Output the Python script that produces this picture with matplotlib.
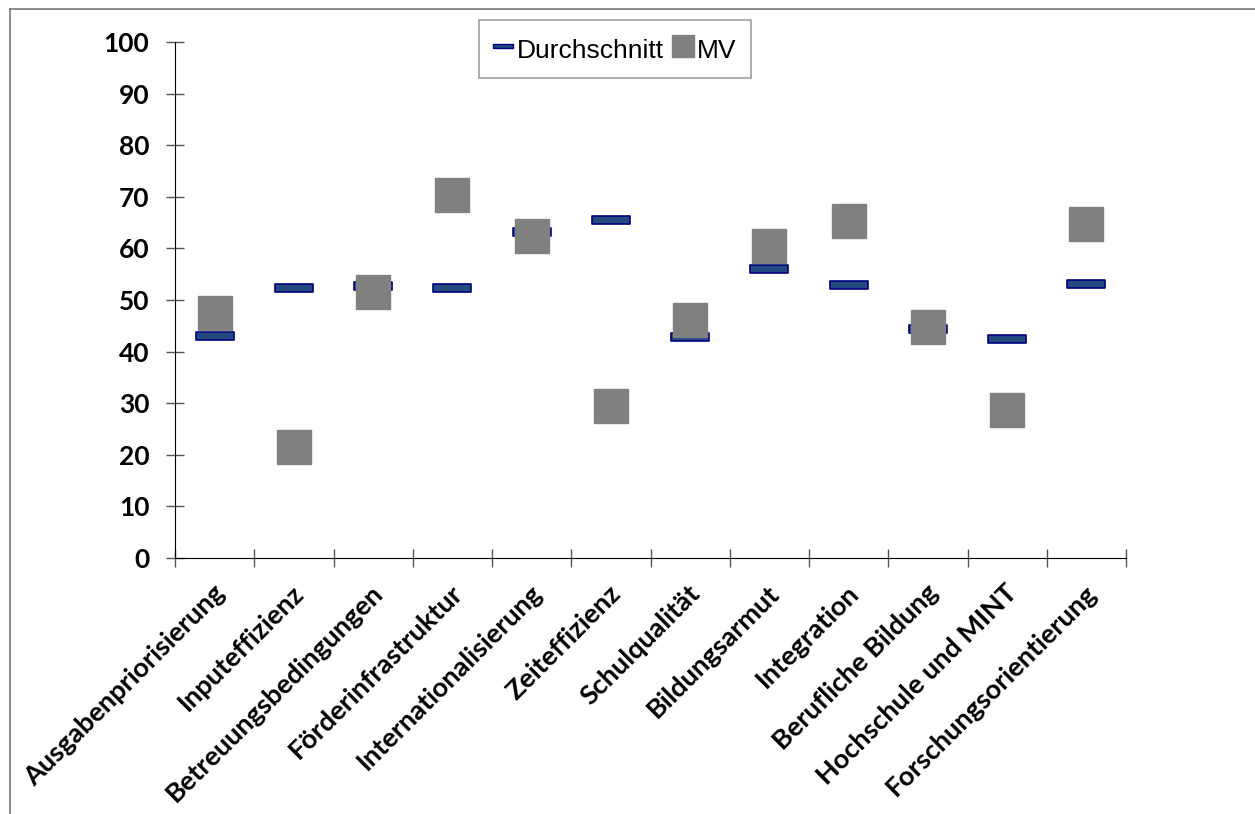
import numpy as np
import matplotlib.pyplot as plt
from matplotlib.path import Path
from matplotlib.lines import Line2D

categories = ["Ausgabenpriorisierung", "Inputeffizienz", "Betreuungsbedingungen",
              "Förderinfrastruktur", "Internationalisierung", "Zeiteffizienz",
              "Schulqualität", "Bildungsarmut", "Integration", "Berufliche Bildung",
              "Hochschule und MINT", "Forschungsorientierung"]
durchschnitt = [43.0, 52.3, 52.7, 52.3, 63.2, 65.5, 42.8, 56.0, 52.9, 44.4, 42.4, 53.1]
mv = [47.5, 21.5, 51.6, 70.3, 62.4, 29.5, 46.1, 60.5, 65.3, 44.8, 28.7, 64.7]

# flat dash marker for the average
dash = Path([(-1, -0.2), (1, -0.2), (1, 0.2), (-1, 0.2), (-1, -0.2)],
            [Path.MOVETO, Path.LINETO, Path.LINETO, Path.LINETO, Path.CLOSEPOLY])

fig = plt.figure(figsize=(12.55, 8.14), dpi=100)
ax = fig.add_axes([175 / 1255, 1 - 558 / 814, (1126 - 175) / 1255, (558 - 42) / 814])

x = np.arange(len(categories))
ax.plot(x, durchschnitt, linestyle='none', marker=dash, markersize=27,
        markerfacecolor='#24497f', markeredgecolor='#000080', markeredgewidth=1.2,
        label='Durchschnitt', zorder=2)
ax.plot(x, mv, linestyle='none', marker='s', markersize=25,
        markerfacecolor='#808080', markeredgecolor='#808080', label='MV', zorder=3)

ax.set_xlim(-0.5, len(categories) - 0.5)
ax.set_ylim(0, 100)
ax.set_yticks(range(0, 101, 10))
ax.set_xticks(np.arange(-0.5, len(categories), 1.0))
ax.set_xticklabels([])
ax.tick_params(axis='both', direction='inout', length=13, width=1, color='#555555')
ax.tick_params(axis='y', labelsize=19, pad=12)
for lbl in ax.get_yticklabels():
    lbl.set_fontweight('bold')
    lbl.set_family('Lato')

for i, name in enumerate(categories):
    ax.text(i + 0.08, -6, name, rotation=45, rotation_mode='anchor',
            ha='right', va='center', fontsize=19.5, fontweight='bold',
            family='Lato', transform=ax.transData, clip_on=False)

for s in ['top', 'right']:
    ax.spines[s].set_visible(False)
ax.spines['left'].set_color('black')
ax.spines['bottom'].set_color('black')

handles = [Line2D([], [], linestyle='none', marker=dash, markersize=15,
                  markerfacecolor='#24497f', markeredgecolor='#000080'),
           Line2D([], [], linestyle='none', marker='s', markersize=16,
                  markerfacecolor='#808080', markeredgecolor='#808080')]
leg = fig.legend(handles, ['Durchschnitt', 'MV'], loc='center',
                 bbox_to_anchor=(615 / 1255, 1 - 49 / 814), ncol=2,
                 prop={'family': 'Liberation Sans', 'size': 19},
                 fancybox=False, edgecolor='#888888', handlelength=0.7,
                 handleheight=1.3, handletextpad=0.15, columnspacing=0.4,
                 borderpad=0.55, borderaxespad=0)
leg.get_frame().set_linewidth(1.2)

# outer frame (top and left only visible)
fig.add_artist(Line2D([10 / 1255, 10 / 1255], [0, 1 - 9 / 814], color='#777777', lw=1.2))
fig.add_artist(Line2D([10 / 1255, 1], [1 - 9 / 814, 1 - 9 / 814], color='#777777', lw=1.2))

fig.savefig('out.png', dpi=100)
